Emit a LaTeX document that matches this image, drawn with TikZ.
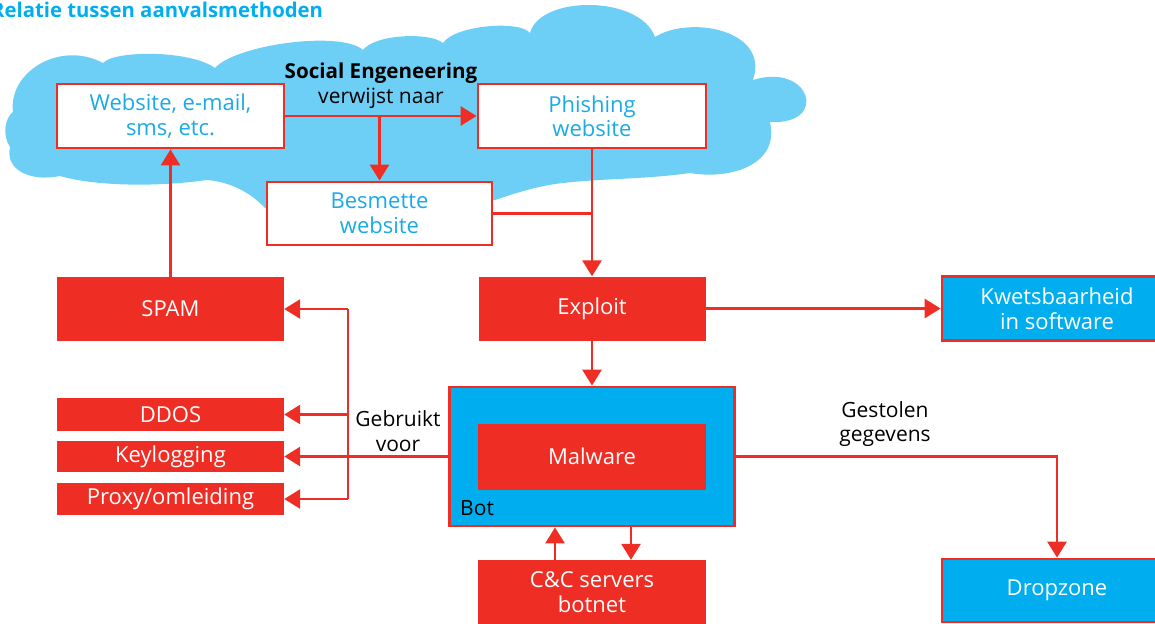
\documentclass[tikz,border=0pt]{standalone}
\usepackage{fontspec}
\setmainfont{Open Sans}
\usetikzlibrary{arrows.meta}

\definecolor{rood}{HTML}{EE2E24}
\definecolor{wolk}{HTML}{6DCFF6}
\definecolor{hemel}{HTML}{00AEEF}
\definecolor{tekstblauw}{HTML}{1AAAE6}

\tikzset{
  lijn/.style={draw=rood, line width=2.8pt},
  pijl/.style={lijn, -{Triangle[length=16pt,width=19pt]}},
  witvak/.style={rectangle, draw=rood, line width=2.8pt, fill=white,
    text=tekstblauw, align=center, font=\fontsize{22}{24.5}\selectfont},
  roodvak/.style={rectangle, fill=rood, draw=none, text=white, align=center,
    font=\fontsize{22}{24.5}\selectfont},
  blauwvak/.style={rectangle, fill=hemel, draw=rood, line width=2.8pt,
    text=white, align=center, font=\fontsize{22}{24.5}\selectfont},
  label/.style={text=black, align=center, font=\fontsize{21}{24.5}\selectfont},
}

\begin{document}
\begin{tikzpicture}[x=1pt, y=-1pt]
\useasboundingbox (0,0) rectangle (1155,623);
\clip (0,0) rectangle (1155,623);

% title
\node[anchor=base west, inner sep=0pt, text=hemel,
      font=\fontsize{20.3}{22}\bfseries] (titel) at (-9,18) {Relatie tussen aanvalsmethoden};

% cloud behind the social engineering part, built from bulging segments
\fill[wolk] (13,112)
  .. controls (8,72) and (60,40) .. (103,63)
  .. controls (115,50) and (190,50) .. (215,68)
  .. controls (235,45) and (340,30) .. (363,50)
  .. controls (375,34) and (430,32) .. (443,43)
  .. controls (455,25) and (520,20) .. (530,33)
  .. controls (540,-5) and (640,-5) .. (655,37)
  .. controls (690,15) and (770,30) .. (753,80)
  .. controls (810,62) and (830,125) .. (770,122)
  .. controls (780,165) and (730,180) .. (690,173)
  .. controls (640,180) and (600,178) .. (555,184)
  .. controls (530,188) and (510,195) .. (495,200)
  -- (400,212) -- (265,208)
  .. controls (250,192) and (230,182) .. (207,180)
  .. controls (150,188) and (90,185) .. (60,176)
  .. controls (30,182) and (5,170) .. (10,147)
  .. controls (2,135) and (5,118) .. (13,112) -- cycle;

% boxes
\node[witvak, minimum width=227pt, minimum height=64pt] (web)   at (170.5,116) {Website, e-mail,\\sms, etc.};
\node[witvak, minimum width=228pt, minimum height=64pt] (phish) at (592,116)   {Phishing\\website};
\node[witvak, minimum width=225pt, minimum height=63pt] (besm)  at (379.5,213.5) {Besmette\\website};

\node[roodvak, minimum width=227pt, minimum height=64pt] (spam)    at (170.5,309) {SPAM};
\node[roodvak, minimum width=227pt, minimum height=64pt] (exploit) at (592,308.5) {Exploit};
\node[roodvak, minimum width=227pt, minimum height=33pt] (ddos)    at (170.5,414.5) {DDOS};
\node[roodvak, minimum width=227pt, minimum height=31pt] (keylog)  at (170.5,456.5) {Keylogging};
\node[roodvak, minimum width=227pt, minimum height=32pt] (proxy)   at (170.5,499) {Proxy/omleiding};

\node[blauwvak, minimum width=285pt, minimum height=139pt] (bot) at (592,456.5) {};
\node[roodvak, minimum width=228pt, minimum height=66pt] (malware) at (592,456.5) {Malware};
\node[anchor=base west, inner sep=0pt, text=black, font=\fontsize{21}{24}\selectfont] (botlabel) at (460,515) {Bot};

\node[roodvak, minimum width=228pt, minimum height=64pt] (cc) at (592,592) {C\&C servers\\botnet};

\node[blauwvak, minimum width=230pt, minimum height=64pt] (kwets) at (1057,308.5) {Kwetsbaarheid\\in software};
\node[blauwvak, minimum width=230pt, minimum height=63pt] (drop)  at (1057,590.5) {Dropzone};

% labels
\node[label, font=\fontsize{20.6}{24}\bfseries] (se) at (381,73) {Social Engeneering};
\node[label] (verw) at (381,98) {verwijst naar};
\node[label] (gebr) at (398,431) {Gebruikt\\voor};
\node[label] (gest) at (885,424) {Gestolen\\gegevens};

% social engineering links
\draw[pijl] (web.east) -- (phish.west);
\coordinate (splits) at (besm.north |- web.east);
\draw[pijl] (splits) -- (besm.north);
\draw[pijl] (phish.south) -- (exploit.north);
\draw[lijn] (besm.east) -- (besm.east -| phish.south);
\draw[pijl] (spam.north) -- (web.south);

% exploit and bot
\draw[pijl] (exploit.east) -- (kwets.west);
\draw[pijl] (exploit.south) -- (bot.north);
\draw[pijl] ([xshift=-37pt]cc.north) -- ([xshift=-37pt]bot.south);
\draw[pijl] ([xshift=39pt]bot.south) -- ([xshift=39pt]cc.north);
\draw[pijl] (bot.east) -| (drop.north);

% bot uses
\coordinate (busboven) at (348,309);
\coordinate (busonder) at (348,499);
\draw[lijn] (busboven) -- (busonder);
\draw[pijl] (busboven) -- (spam.east);
\draw[pijl] (busboven |- ddos.east) -- (ddos.east);
\draw[pijl] (busonder) -- (proxy.east);
\draw[pijl] (bot.west) -- (keylog.east);
\end{tikzpicture}
\end{document}
